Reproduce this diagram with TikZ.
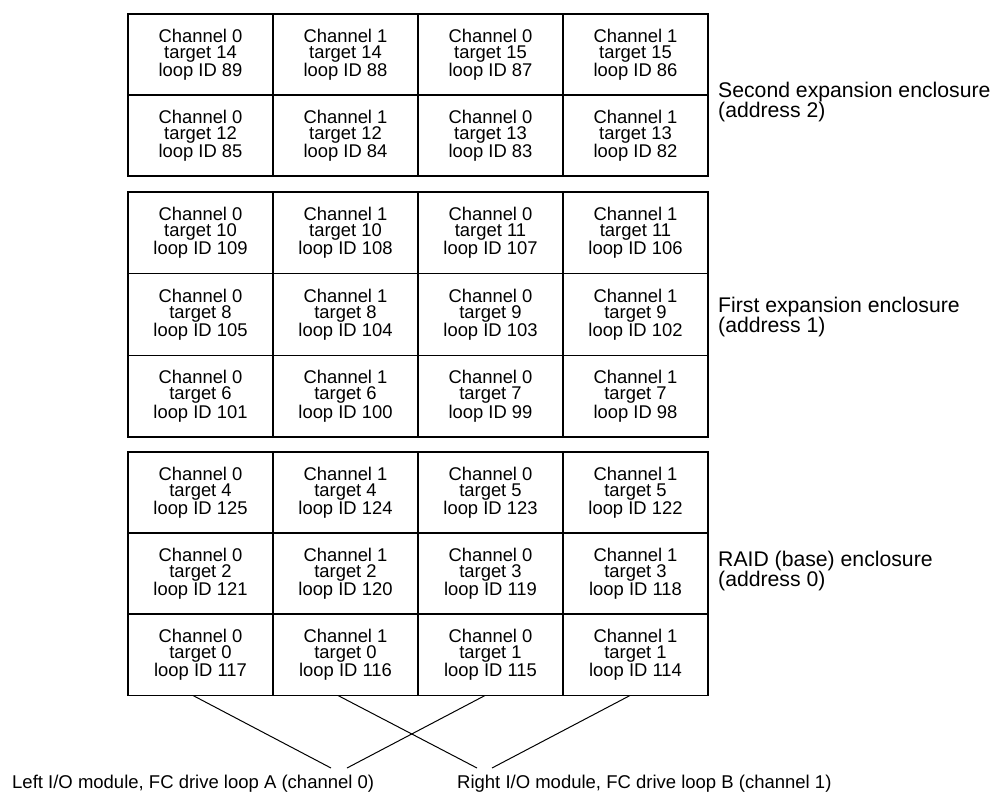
\documentclass[tikz,border=0pt]{standalone}
\usepackage{fontspec}
\setmainfont{Liberation Sans}
\begin{document}
\begin{tikzpicture}[x=1pt,y=-1pt,
  cell/.style={draw, line width=1.1pt, minimum width=145pt, inner sep=0pt, outer sep=0pt,
    align=center, font=\fontsize{18.4}{18.5}\selectfont, anchor=north west},
  side/.style={anchor=base west, align=left, font=\fontsize{21.2}{20}\selectfont, inner sep=0pt},
  bottomlabel/.style={anchor=base west, font=\fontsize{18.5}{20}\selectfont, inner sep=0pt},
  wire/.style={line width=1pt}]
\useasboundingbox (0,0) rectangle (993,792);
\foreach \name/\y/\h/\ta/\tb/\la/\lb/\lc/\ld in {
  s1/14/81/14/15/89/88/87/86,
  s2/95/81/12/13/85/84/83/82,
  f1/192/81.7/10/11/109/108/107/106,
  f2/273.7/81.7/8/9/105/104/103/102,
  f3/355.3/81.7/6/7/101/100/99/98,
  r1/452/81/4/5/125/124/123/122,
  r2/533/81/2/3/121/120/119/118,
  r3/614/81.5/0/1/117/116/115/114}{
  \node[cell, minimum height=\h pt] (\name-1) at (128,\y) {Channel 0\\[-2.5pt]target \ta\\loop ID \la};
  \node[cell, minimum height=\h pt] (\name-2) at (273,\y) {Channel 1\\[-2.5pt]target \ta\\loop ID \lb};
  \node[cell, minimum height=\h pt] (\name-3) at (418,\y) {Channel 0\\[-2.5pt]target \tb\\loop ID \lc};
  \node[cell, minimum height=\h pt] (\name-4) at (563,\y) {Channel 1\\[-2.5pt]target \tb\\loop ID \ld};
}
\node[side] (lab2) at (718,117) {Second expansion enclosure\\(address 2)};
\node[side] (lab1) at (718,332.7) {First expansion enclosure\\(address 1)};
\node[side] (lab0) at (718,586.7) {RAID (base) enclosure\\(address 0)};
\node[bottomlabel] (loopA) at (12,788) {Left I/O module, FC drive loop A (channel 0)};
\node[bottomlabel] (loopB) at (457,788) {Right I/O module, FC drive loop B (channel 1)};
\coordinate (a1) at (331,768);
\coordinate (a2) at (347,768);
\coordinate (b1) at (477,768);
\coordinate (b2) at (492,768);
\draw[wire] ([xshift=-7.5pt]r3-1.south) -- (a1);
\draw[wire] ([xshift=-7.5pt]r3-2.south) -- (b1);
\draw[wire] ([xshift=-5.5pt]r3-3.south) -- (a2);
\draw[wire] ([xshift=-5.5pt]r3-4.south) -- (b2);
\end{tikzpicture}
\end{document}
